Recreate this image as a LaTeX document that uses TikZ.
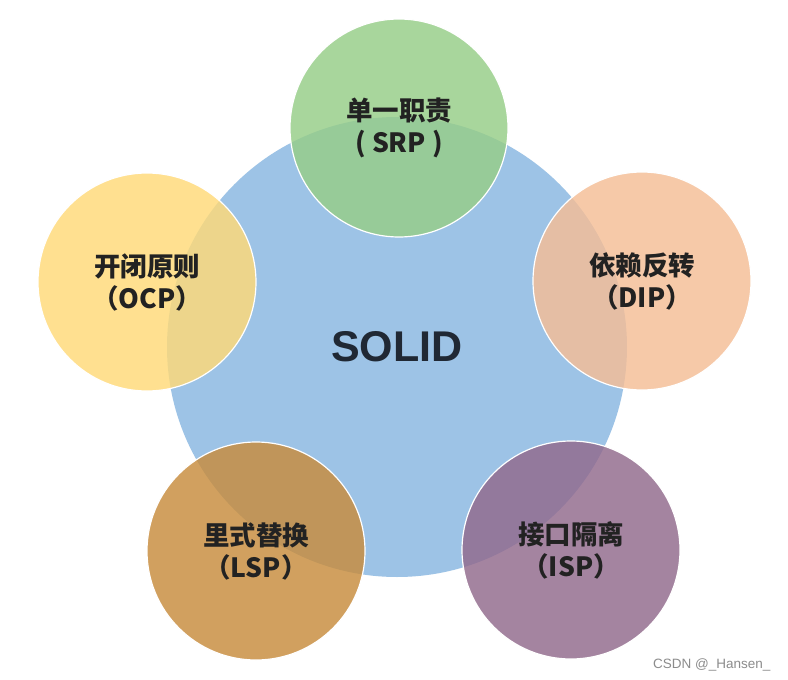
\documentclass[tikz,border=0pt]{standalone}
\usepackage{fontspec}
\newfontfamily\cjk{Noto Sans CJK SC}
\newfontfamily\wm{Liberation Sans}
\definecolor{cblue}{RGB}{157,195,230}
\definecolor{cgreen}{RGB}{150,205,135}
\definecolor{cyellow}{RGB}{255,218,120}
\definecolor{corange}{RGB}{245,190,150}
\definecolor{cbrown}{RGB}{200,140,60}
\definecolor{cpurple}{RGB}{145,105,140}
\definecolor{ctext}{RGB}{34,34,34}
\definecolor{csolid}{RGB}{32,40,52}
\begin{document}
\begin{tikzpicture}[x=1pt,y=-1pt,
  petal/.style={circle, inner sep=0pt, minimum size=218pt, draw=white, line width=1.2pt,
    fill opacity=0.82, text opacity=1, text=ctext, align=center,
    font=\cjk\bfseries\fontsize{26.5}{32}\selectfont},
  hub/.style={circle, inner sep=0pt, minimum size=460pt, fill=cblue,
    text=csolid, font=\wm\bfseries\fontsize{43}{48}\selectfont}]
\useasboundingbox (0,0) rectangle (788,680);
\fill[white] (0,0) rectangle (788,680);
\node[hub] (solid) at (397,347) {SOLID};
\node[petal, fill=cgreen] (srp) at (399,128) {单一职责\\( SRP )};
\node[petal, fill=cyellow] (ocp) at (147,282) {开闭原则\\（OCP）};
\node[petal, fill=corange] (dip) at (642,281) {依赖反转\\（DIP）};
\node[petal, fill=cbrown] (lsp) at (256,551) {里式替换\\（LSP）};
\node[petal, fill=cpurple] (isp) at (571,550) {接口隔离\\（ISP）};
\node[text=black!45, font=\wm\fontsize{13.5}{15}\selectfont, anchor=east] (mark) at (774,665) {CSDN @\_Hansen\_};
\end{tikzpicture}
\end{document}
